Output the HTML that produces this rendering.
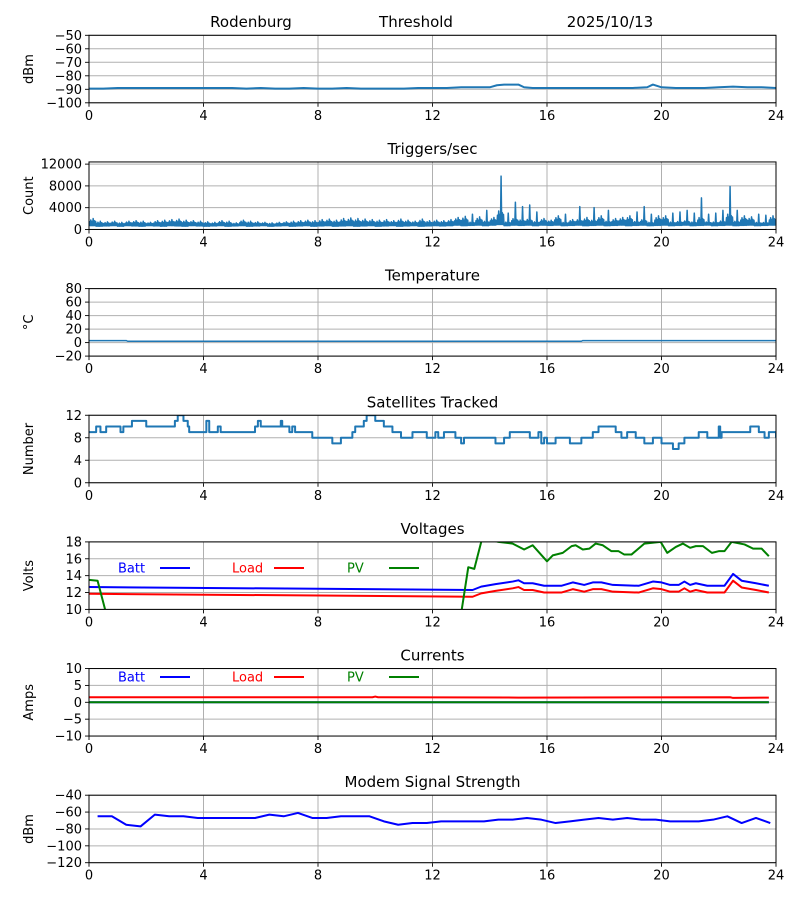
<!DOCTYPE html>
<html><head><meta charset="utf-8"><style>
body{margin:0;background:#fff;}
svg{display:block;font-family:"DejaVu Sans","Liberation Sans",sans-serif;}
</style></head>
<body>
<svg id="chart" width="800" height="900" xmlns="http://www.w3.org/2000/svg">
<text x="251" y="27" font-size="15" text-anchor="middle">Rodenburg</text>
<text x="416" y="27" font-size="15" text-anchor="middle">Threshold</text>
<text x="610" y="27" font-size="15" text-anchor="middle">2025/10/13</text>
</svg>
<script>
// ---- data ----
const xTicks = [0,4,8,12,16,20,24];
const signalT = [0,0.5,1,1.5,2,2.5,3,3.5,4,4.5,5,5.5,6,6.5,7,7.5,8,8.5,9,9.5,10,10.5,11,11.5,12,12.5,13,13.5,14,14.25,14.5,15,15.2,15.5,16,16.5,17,17.5,18,18.5,19,19.5,19.7,20,20.5,21,21.5,22,22.5,23,23.5,24];
const signalV = [-89.5,-89.5,-89,-89,-89,-89,-89,-89,-89,-89,-89,-89.5,-89,-89.5,-89.5,-89,-89.5,-89.5,-89,-89.5,-89.5,-89.5,-89.5,-89,-89,-89,-88.5,-88.5,-88.5,-87,-86.5,-86.5,-88.5,-89,-89,-89,-89,-89,-89,-89,-89,-88.5,-86.5,-88.5,-89,-89,-89,-88.5,-88,-88.5,-88.5,-89];
const trigHi = [2000,1500,1400,1500,1300,1500,1600,1500,1300,1600,1700,1800,1900,1700,1600,1500,
1400,1300,1600,1500,1200,1700,1500,1400,1300,1200,1300,1400,1500,1600,1700,1600,
1800,1900,1700,2000,2100,2000,1900,1800,1700,1800,1600,1900,1700,1500,1900,1600,
1700,1600,1800,2200,2400,2800,2300,3500,2200,9800,3000,5000,4200,4500,3200,2000,
1700,2500,2800,1800,4200,2200,4000,2500,3500,2000,2200,2500,3200,4200,2800,2500,
2500,3000,3200,3500,3000,5800,2800,3000,3500,7900,3500,2500,2300,2800,2600,2500];
const trigLo = [700,600,650,700,600,700,650,600,700,650,600,700,650,600,700,650,
600,650,700,600,650,700,600,650,700,600,650,700,600,650,700,600,
650,700,600,650,700,600,650,700,600,650,700,600,650,700,600,650,
700,650,700,800,700,750,800,700,800,900,700,800,750,800,700,800,
750,800,700,750,800,700,750,800,700,750,800,700,750,800,700,750,
800,700,750,800,700,750,800,700,750,800,700,750,800,700,750,800];
const tempT = [0,1.3,1.35,17.2,17.25,24];
const tempV = [3,3,2,2,3,3];
const satT = [0,0.25,0.4,0.6,1.1,1.2,1.5,2.0,3.0,3.1,3.3,3.45,3.5,4.1,4.2,4.5,4.6,5.8,5.9,6.0,6.7,6.75,7.0,7.1,7.2,7.8,8.5,8.8,9.2,9.3,9.6,9.7,10.0,10.3,10.6,10.9,11.3,11.8,12.1,12.2,12.4,12.8,13.0,13.1,14.2,14.5,14.7,15.4,15.7,15.8,15.9,16.0,16.3,16.8,17.2,17.6,17.8,18.4,18.6,18.8,19.1,19.4,19.7,20.0,20.4,20.6,20.8,21.3,21.6,22.0,22.05,22.1,23.1,23.4,23.6,23.75,24];
const satV = [9,10,9,10,9,10,11,10,11,12,11,10,9,11,9,10,9,10,11,10,11,10,9,10,9,8,7,8,9,10,11,12,11,10,9,8,9,8,9,8,9,8,7,8,7,8,9,8,9,7,8,7,8,7,8,9,10,9,8,9,8,7,8,7,6,7,8,9,8,10,8,9,10,9,8,9,8];
const battT = [0,13.4,13.7,14.2,14.8,15.0,15.2,15.5,15.9,16.5,16.9,17.3,17.6,17.9,18.3,19.2,19.7,20.0,20.3,20.6,20.8,21.0,21.2,21.6,22.2,22.5,22.8,23.3,23.75];
const battV = [12.65,12.3,12.7,13.0,13.3,13.45,13.1,13.1,12.8,12.8,13.2,12.9,13.2,13.2,12.9,12.8,13.3,13.2,12.9,12.9,13.3,12.9,13.1,12.8,12.8,14.2,13.4,13.1,12.8];
const loadV = [11.85,11.5,11.9,12.2,12.5,12.65,12.3,12.3,12.0,12.0,12.4,12.1,12.4,12.4,12.1,12.0,12.5,12.4,12.1,12.1,12.5,12.1,12.3,12.0,12.0,13.4,12.6,12.3,12.0];
const pv1T = [0,0.3,0.6];
const pv1V = [13.5,13.4,9.5];
const pv2T = [13.0,13.25,13.46,13.74,14.3,14.8,15.2,15.5,16.0,16.2,16.55,16.86,17.0,17.25,17.48,17.7,17.95,18.25,18.5,18.7,18.95,19.4,19.97,20.2,20.5,20.75,21.0,21.2,21.45,21.76,22.0,22.2,22.45,22.9,23.2,23.5,23.75];
const pv2V = [9.5,15.0,14.8,18.5,18.0,17.8,17.1,17.6,15.7,16.4,16.7,17.5,17.6,17.1,17.2,17.8,17.6,16.9,16.9,16.5,16.5,17.8,18.0,16.7,17.4,17.8,17.3,17.5,17.5,16.7,16.9,16.9,18.0,17.7,17.2,17.2,16.3];
const curT = [0,9.9,10.0,10.1,15.0,22.4,22.5,23.75];
const curBatt = [0,0,0,0,0,0,0,0];
const curLoad = [1.5,1.5,1.7,1.5,1.4,1.5,1.3,1.4];
const curPV = [0,0,0,0,0,0,0,0];
const modemT = [0.3,0.8,1.3,1.8,2.3,2.8,3.3,3.8,4.3,4.8,5.3,5.8,6.3,6.8,7.3,7.8,8.3,8.8,9.3,9.8,10.3,10.8,11.3,11.8,12.3,12.8,13.3,13.8,14.3,14.8,15.3,15.8,16.3,16.8,17.3,17.8,18.3,18.8,19.3,19.8,20.3,20.8,21.3,21.8,22.3,22.8,23.3,23.8];
const modemV = [-65,-65,-75,-77,-63,-65,-65,-67,-67,-67,-67,-67,-63,-65,-61,-67,-67,-65,-65,-65,-71,-75,-73,-73,-71,-71,-71,-71,-69,-69,-67,-69,-73,-71,-69,-67,-69,-67,-69,-69,-71,-71,-71,-69,-65,-73,-67,-73];

// ---- drawing ----
const NS = "http://www.w3.org/2000/svg";
const svg = document.getElementById('chart');
const X0 = 89, X1 = 776, H = 67.5;
function mk(tag, attrs, parent){
  const e = document.createElementNS(NS, tag);
  for (const k in attrs) e.setAttribute(k, attrs[k]);
  (parent||svg).appendChild(e);
  return e;
}
function xs(t){ return X0 + (t/24)*(X1-X0); }

function panel(i, ymin, ymax, yticks, title, ylabel, key){
  const top = 35.3 + i*126.65, bot = top + H;
  const g = mk('g', {});
  
  
  const ys = v => bot - (v - ymin)/(ymax - ymin)*H;
  xTicks.forEach(t => {
    const l = mk('line', {x1:xs(t), x2:xs(t), y1:top, y2:bot, stroke:'#b0b0b0', 'stroke-width':1}, g);
    
    
    const tk = mk('line', {x1:xs(t), x2:xs(t), y1:bot, y2:bot+4, stroke:'#000', 'stroke-width':0.9}, g);
    
    
    const tx = mk('text', {x:xs(t), y:bot+17, 'font-size':13, 'text-anchor':'middle'}, g);
    tx.textContent = t;
    
    
  });
  yticks.forEach(v => {
    const y = ys(v);
    const l = mk('line', {x1:X0, x2:X1, y1:y, y2:y, stroke:'#b0b0b0', 'stroke-width':1}, g);
    
    
    const tk = mk('line', {x1:X0-4, x2:X0, y1:y, y2:y, stroke:'#000', 'stroke-width':0.9}, g);
    
    
    const tx = mk('text', {x:X0-7, y:y+4.5, 'font-size':13, 'text-anchor':'end'}, g);
    tx.textContent = v < 0 ? '\u2212' + Math.abs(v) : v;
    
    
  });
  if (title){
    const tt = mk('text', {x:(X0+X1)/2, y:top-8, 'font-size':15, 'text-anchor':'middle'}, g);
    tt.textContent = title;
    
    
  }
  const yl = mk('text', {x:0, y:0, 'font-size':13, 'text-anchor':'middle', transform:`translate(33,${(top+bot)/2}) rotate(-90)`}, g);
  yl.textContent = ylabel;
  
  
  const clipId = 'clip' + i;
  const cp = mk('clipPath', {id:clipId}, g);
  mk('rect', {x:X0, y:top, width:X1-X0, height:H}, cp);
  const plot = mk('g', {'clip-path':`url(#${clipId})`}, g);
  const frame = mk('rect', {x:X0, y:top, width:X1-X0, height:H, fill:'none', stroke:'#000', 'stroke-width':1}, g);
  
  
  return {plot, ys, g};
}
function line(p, T, V, color, w, name, step){
  let pts = [];
  for (let k=0;k<T.length;k++){
    if (step && k>0) pts.push(xs(T[k]) + ',' + p.ys(V[k-1]));
    pts.push(xs(T[k]) + ',' + p.ys(V[k]));
  }
  const pl = mk('polyline', {points:pts.join(' '), fill:'none', stroke:color, 'stroke-width':w, 'stroke-linejoin':'round'}, p.plot);
  
  
}

// Panel 0 signal
const p0 = panel(0, -100, -50, [-50,-60,-70,-80,-90,-100], '', 'dBm', 'signal');
line(p0, signalT, signalV, '#1f77b4', 2, 'signal-line');

// Panel 1 triggers
const p1 = panel(1, 0, 12400, [0,4000,8000,12000], 'Triggers/sec', 'Count', 'triggers');
{
  const shape = [0.55,0.8,0.6,1.0,0.7,0.6];
  let pts = [];
  for (let k=0;k<trigHi.length;k++){
    const t = k*0.25;
    const lo = trigLo[k];
    for (let s=0;s<shape.length;s++){
      const dt = 0.25*s/shape.length;
      pts.push(xs(t+dt) + ',' + p1.ys(lo));
      const hv = lo + (trigHi[k]-lo)*(s===3 ? 1 : shape[s]*(trigHi[k] > 2500 ? 0.35 : 1));
      pts.push(xs(t+dt+0.25/shape.length/2) + ',' + p1.ys(hv));
    }
  }
  pts.push(xs(24) + ',' + p1.ys(trigLo[0]));
  const pl = mk('polyline', {points:pts.join(' '), fill:'none', stroke:'#1f77b4', 'stroke-width':1.5, 'stroke-linejoin':'round'}, p1.plot);
  
  
}

// Panel 2 temperature
const p2 = panel(2, -20, 80, [-20,0,20,40,60,80], 'Temperature', '\u00B0C', 'temperature');
line(p2, tempT, tempV, '#1f77b4', 1.5, 'temperature-line');

// Panel 3 satellites
const p3 = panel(3, 0, 12, [0,4,8,12], 'Satellites Tracked', 'Number', 'satellites');
line(p3, satT, satV, '#1f77b4', 2, 'satellites-line', true);

// Panel 4 voltages
const p4 = panel(4, 10, 18, [10,12,14,16,18], 'Voltages', 'Volts', 'voltages');
line(p4, battT, battV, 'blue', 2, 'batt-voltage-line');
line(p4, battT, loadV, 'red', 2, 'load-voltage-line');
line(p4, pv1T, pv1V, 'green', 2, 'pv-voltage-line-morning');
line(p4, pv2T, pv2V, 'green', 2, 'pv-voltage-line-day');

// Panel 5 currents
const p5 = panel(5, -10, 10, [-10,-5,0,5,10], 'Currents', 'Amps', 'currents');
line(p5, curT, curBatt, 'blue', 2, 'batt-current-line');
line(p5, curT, curLoad, 'red', 2, 'load-current-line');
line(p5, curT, curPV, 'green', 2, 'pv-current-line');

// Legends
[[p4,'voltages'],[p5,'currents']].forEach(([p,key]) => {
  const ty = p.ys(p === p4 ? 14.9 : 7.5);
  [['Batt','blue',118,160],['Load','red',232,274],['PV','green',347,389]].forEach(it => {
    const tx = mk('text', {x:it[2], y:ty+4.5, 'font-size':13, fill:it[1]}, p.g);
    tx.textContent = it[0];
    
    
    const ln = mk('line', {x1:it[3], x2:it[3]+30, y1:ty, y2:ty, stroke:it[1], 'stroke-width':2}, p.g);
    
    
  });
});

// Panel 6 modem
const p6 = panel(6, -120, -40, [-120,-100,-80,-60,-40], 'Modem Signal Strength', 'dBm', 'modem');
line(p6, modemT, modemV, 'blue', 2, 'modem-signal-line');
</script>
</body></html>
